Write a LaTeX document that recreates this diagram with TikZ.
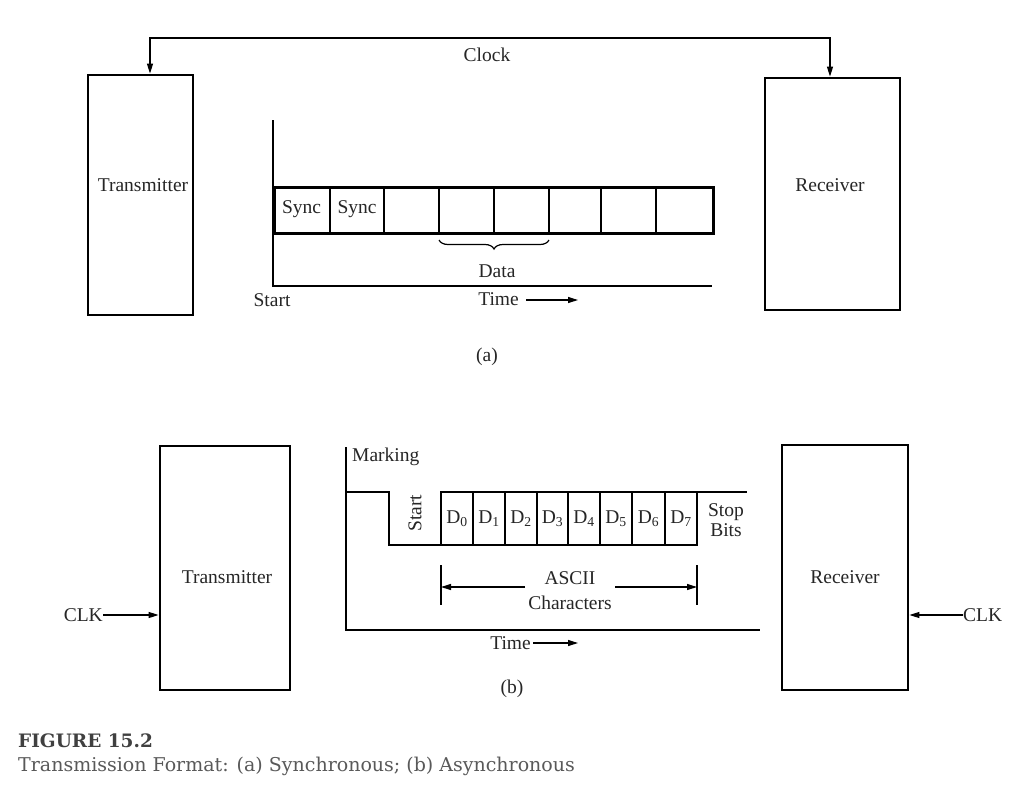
\documentclass[tikz,border=0pt]{standalone}
\usepackage{fontspec}
\setmainfont{Liberation Serif}
\newfontfamily\capfont{DejaVu Serif}
\usetikzlibrary{arrows.meta,decorations.pathreplacing,calc}
\begin{document}
\begin{tikzpicture}[x=1pt,y=-1pt,
  every node/.style={inner sep=0pt},
  box/.style={draw, line width=2.8pt, minimum width=#1, inner sep=0pt},
  thin/.style={line width=1.2pt},
  thick2/.style={line width=2.8pt},
  arr/.style={line width=1.2pt, -{Triangle[length=10pt,width=6pt]}},
  lbl/.style={font=\fontsize{19.5}{22}\selectfont, text=black!85}
]
\useasboundingbox (0,0) rectangle (1029,788);
\fill[white] (0,0) rectangle (1029,788);

% ---------- (a) synchronous ----------
\node[box=105pt, minimum height=240pt] (txA) at (140.5,195) {};
\node[box=135pt, minimum height=232pt] (rxA) at (832.5,194) {};
\node[lbl] (txAl) at (143,185) {Transmitter};
\node[lbl] (rxAl) at (830,185) {Receiver};

\coordinate (cl) at (150,38);
\coordinate (cr) at (830,38);
\draw[arr] (cr) -- (cl) -- (cl |- txA.north);
\draw[arr] (cl) -- (cr) -- (cr |- rxA.north);
\node[lbl] (clock) at (487,55) {Clock};

% axes
\coordinate (aO) at (273,286);
\coordinate (aT) at (273,120);
\coordinate (aR) at (712,286);
\draw[thin] (aT) -- (aO) -- (aR);

% frame
\node[draw, thick2, minimum width=439pt, minimum height=46pt, anchor=north west] (frame) at (273,186) {};
\foreach \x in {330,384,439,494,549,601,656}
  \draw[thin] (\x,186) -- (\x,232);
\node[lbl] (s1) at (301.5,209) {Sync};
\node[lbl] (s2) at (357,209) {Sync};

\draw[thin, decorate, decoration={brace, mirror, amplitude=9pt}] (439,240) -- (549,240);
\node[lbl] (data) at (497,271) {Data};
\node[lbl] (startA) at (272,300) {Start};
\node[lbl, anchor=east] (timeA) at (519,299) {Time};
\coordinate (tAe) at (578,300);
\draw[arr] (timeA.east) ++(7,1) -- (tAe);
\node[lbl] (capa) at (487,357) {(a)};

% ---------- (b) asynchronous ----------
\node[box=130pt, minimum height=244pt] (txB) at (225,568) {};
\node[box=126pt, minimum height=245pt] (rxB) at (845,567.5) {};
\node[lbl] (txBl) at (227,577) {Transmitter};
\node[lbl] (rxBl) at (845,577) {Receiver};

\node[lbl, anchor=east] (clkL) at (103,615) {CLK};
\draw[arr] (clkL.east) -- (clkL.east -| txB.west);
\node[lbl, anchor=west] (clkR) at (963,615) {CLK};
\draw[arr] (clkR.west) -- (clkR.west -| rxB.east);

% axes
\coordinate (bT) at (346,447);
\coordinate (bO) at (346,630);
\coordinate (bR) at (760,630);
\draw[thin] (bT) -- (bO) -- (bR);

% signal
\draw[thick2, line join=miter] (346,492) -- (389,492) -- (389,545) -- (441,545) -- (441,492) -- (747,492);
\draw[thick2] (441,545) -- (697,545) -- (697,492);
\foreach \x in {473,505,537,568,600,632,665}
  \draw[thin] (\x,492) -- (\x,545);
\foreach \i/\x in {0/457,1/489,2/521,3/552.5,4/584,5/616,6/648.5,7/681}
  \node[lbl] (d\i) at (\x,519) {D\textsubscript{\i}};

\node[lbl, rotate=90] (startB) at (415,513) {Start};
\node[lbl, align=center] (stop) at (726,520) {Stop\\[-2pt]Bits};
\node[lbl, anchor=west] (mark) at (352,457) {Marking};

% ASCII span
\coordinate (t1a) at (441,565);
\coordinate (t1b) at (441,605);
\coordinate (t2a) at (697,565);
\coordinate (t2b) at (697,605);
\draw[thin] (t1a) -- (t1b);
\draw[thin] (t2a) -- (t2b);
\node[lbl] (ascii) at (570,578) {ASCII};
\node[lbl] (chars) at (570,603) {Characters};
\coordinate (al) at (441,587);
\coordinate (ar) at (697,587);
\draw[arr] (525,587) -- (al);
\draw[arr] (615,587) -- (ar);

\node[lbl, anchor=east] (timeB) at (531,643) {Time};
\coordinate (tBe) at (578,643);
\draw[arr] (timeB.east) ++(2,0) -- (tBe);
\node[lbl] (capb) at (512,689) {(b)};

% caption
\node[anchor=west, font=\capfont\bfseries\fontsize{18.5}{22}\selectfont, text=black!75] (fig) at (18,741) {FIGURE 15.2};
\node[anchor=west, font=\capfont\fontsize{19}{22}\selectfont, text=black!65] (capt) at (18,766) {Transmission Format: (a) Synchronous; (b) Asynchronous};
\end{tikzpicture}
\end{document}
